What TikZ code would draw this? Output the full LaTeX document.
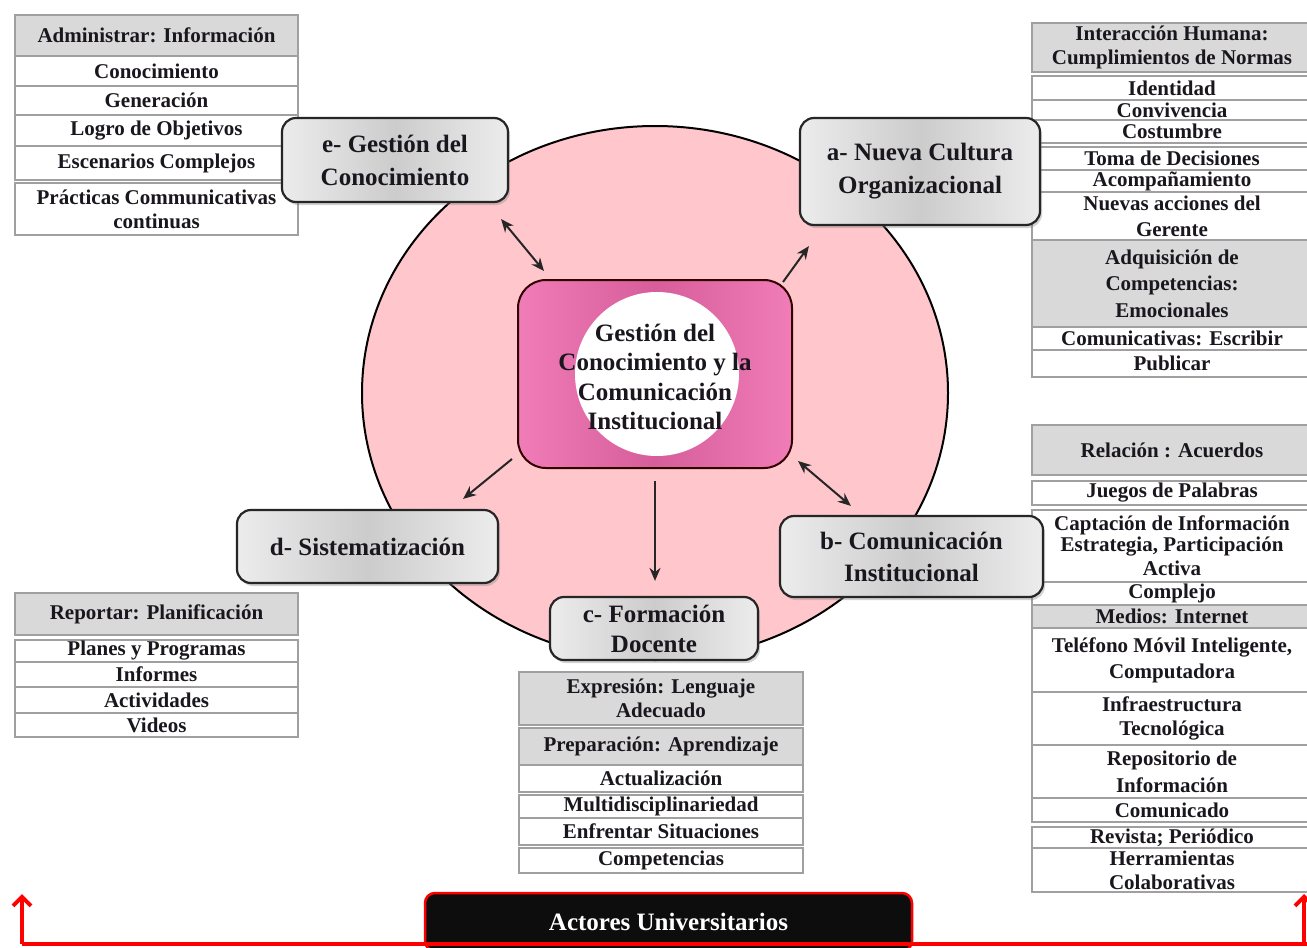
\documentclass[tikz,border=0pt]{standalone}
\usepackage{fontspec}
\setmainfont{Liberation Serif}
\usetikzlibrary{shapes.geometric,arrows.meta,calc,shadows}
\definecolor{ringpink}{RGB}{255,199,204}
\definecolor{pinkedge}{RGB}{240,124,184}
\definecolor{pinkmid}{RGB}{214,94,154}
\definecolor{nodeedge}{RGB}{236,236,236}
\definecolor{nodemid}{RGB}{204,204,204}
\definecolor{hdr}{RGB}{217,217,217}
\definecolor{cellgray}{RGB}{160,160,160}
\definecolor{textdark}{RGB}{26,22,30}
\newcommand\myCellFont{\fontsize{21}{24}\selectfont\bfseries}
\newcommand\myNodeFont{\fontsize{25}{33}\selectfont\bfseries}
\newcommand\tcell[7]{%
  \pgfmathsetmacro\tcW{#4-#2}%
  \pgfmathsetmacro\tcH{#5-#3}%
  \pgfmathsetmacro\tcX{(#2+#4)/2}%
  \pgfmathsetmacro\tcY{(#3+#5)/2}%
  \node[tcellbox, fill=#6, minimum width=\tcW pt, minimum height=\tcH pt] (#1) at (\tcX,\tcY) {#7};}
\begin{document}
\begin{tikzpicture}[x=1pt,y=-1pt,
  tcellbox/.style={draw=cellgray, line width=1.3pt, inner sep=0pt, align=center, font=\myCellFont, text=textdark},
  gnode/.style={rounded corners=14pt, draw=black!85, line width=2.2pt, left color=nodeedge, right color=nodeedge, middle color=nodemid,
    drop shadow={opacity=0.35, shadow xshift=2pt, shadow yshift=-3pt}, align=center, font=\myNodeFont, text=textdark, inner sep=0pt},
  conn/.style={line width=2pt, draw=black!85, -{Stealth[length=13pt,width=11pt]}},
  conntwo/.style={line width=2pt, draw=black!85, {Stealth[length=13pt,width=11pt]}-{Stealth[length=13pt,width=11pt]}},
  redline/.style={draw=red, line width=4pt},
  actor/.style={fill=black!95, draw=red, line width=2.5pt, rounded corners=10pt, text=white, font=\fontsize{25}{28}\selectfont\bfseries, inner sep=0pt}
]
\clip (0,0) rectangle (1307,948);
\fill[white] (0,0) rectangle (1307,948);

% big ring
\node[ellipse, draw=black, line width=2pt, fill=ringpink, minimum width=586pt, minimum height=534pt, inner sep=0pt] (ring) at (655,393) {};

% table top-left
\tcell{tla}{15}{15}{298}{56}{hdr}{Administrar: Información}
\tcell{tlb}{15}{56}{298}{86}{white}{Conocimiento}
\tcell{tlc}{15}{86}{298}{115}{white}{Generación}
\tcell{tld}{15}{115}{298}{146}{white}{Logro de Objetivos}
\tcell{tle}{15}{146}{298}{180}{white}{Escenarios Complejos}
\tcell{tlf}{15}{183}{298}{235}{white}{Prácticas Communicativas\\continuas}

% table top-right
\tcell{tra}{1032}{23}{1312}{72}{hdr}{Interacción Humana:\\Cumplimientos de Normas}
\tcell{trb}{1032}{76}{1312}{100}{white}{Identidad}
\tcell{trc}{1032}{100}{1312}{120}{white}{Convivencia}
\tcell{trd}{1032}{120}{1312}{143}{white}{Costumbre}
\tcell{tre}{1032}{147}{1312}{170}{white}{Toma de Decisiones}
\tcell{trf}{1032}{170}{1312}{192}{white}{Acompañamiento}
\tcell{trg}{1032}{192}{1312}{240}{white}{Nuevas acciones del\\[2pt]Gerente}
\tcell{trh}{1032}{240}{1312}{327}{hdr}{Adquisición de\\[2pt]Competencias:\\[3pt]Emocionales}
\tcell{tri}{1032}{327}{1312}{350}{white}{Comunicativas: Escribir}
\tcell{trj}{1032}{350}{1312}{377}{white}{Publicar}

% table middle-right
\tcell{mra}{1032}{425}{1312}{475}{hdr}{Relación : Acuerdos}
\tcell{mrb}{1032}{481}{1312}{505}{white}{Juegos de Palabras}
\tcell{mrc}{1032}{510}{1312}{582}{white}{Captación de Información\\[-3pt]Estrategia, Participación\\Activa}
\tcell{mrd}{1032}{582}{1312}{605}{white}{Complejo}
\tcell{mre}{1032}{605}{1312}{628}{hdr}{Medios: Internet}
\tcell{mrf}{1032}{628}{1312}{692}{white}{Teléfono Móvil Inteligente,\\[2pt]Computadora}
\tcell{mrg}{1032}{692}{1312}{745}{white}{Infraestructura\\Tecnológica}
\tcell{mrh}{1032}{745}{1312}{798}{white}{Repositorio de\\[3pt]Información}
\tcell{mri}{1032}{798}{1312}{822}{white}{Comunicado}
\tcell{mrj}{1032}{827}{1312}{848}{white}{Revista; Periódico}
\tcell{mrk}{1032}{848}{1312}{892}{white}{Herramientas\\Colaborativas}

% table bottom-left
\tcell{bla}{15}{593}{298}{635}{hdr}{Reportar: Planificación}
\tcell{blb}{15}{640}{298}{662}{white}{Planes y Programas}
\tcell{blc}{15}{662}{298}{687}{white}{Informes}
\tcell{bld}{15}{687}{298}{713}{white}{Actividades}
\tcell{ble}{15}{713}{298}{737}{white}{Videos}

% table bottom-center
\tcell{bca}{519}{672}{803}{725}{hdr}{Expresión: Lenguaje\\Adecuado}
\tcell{bcb}{519}{728}{803}{765}{hdr}{Preparación: Aprendizaje}
\tcell{bcc}{519}{765}{803}{792}{white}{Actualización}
\tcell{bcd}{519}{795}{803}{818}{white}{Multidisciplinariedad}
\tcell{bce}{519}{818}{803}{845}{white}{Enfrentar Situaciones}
\tcell{bcf}{519}{848}{803}{873}{white}{Competencias}

% central box
\node[rounded corners=28pt, draw=black!80!red, line width=2pt, left color=pinkedge, right color=pinkedge, middle color=pinkmid,
  minimum width=274pt, minimum height=188pt, inner sep=0pt] (cen) at (655,374) {};
\node[circle, fill=white, minimum size=164pt, inner sep=0pt] (hole) at (657,374) {};
\node[align=center, font=\fontsize{25}{29.5}\selectfont\bfseries, text=textdark, inner sep=0pt] (cent) at (655,377)
  {Gestión del\\Conocimiento y la\\Comunicación\\Institucional};

% satellite nodes
\node[gnode, minimum width=226pt, minimum height=84pt] (e) at (395,160) {e- Gestión del\\Conocimiento};
\node[gnode, minimum width=240pt, minimum height=107pt] (a) at (920,171.5) {a- Nueva Cultura\\Organizacional};
\node[gnode, minimum width=261pt, minimum height=73pt] (d) at (367.5,546.5) {d- Sistematización};
\node[gnode, minimum width=263pt, minimum height=81pt, font=\fontsize{25}{32}\selectfont\bfseries] (b) at (911.5,556.5) {b- Comunicación\\Institucional};
\node[gnode, minimum width=208pt, minimum height=63pt, font=\fontsize{25}{30}\selectfont\bfseries] (c) at (654,628.5) {c- Formación\\Docente};

% connectors
\draw[conntwo] ($(e.south east)+(-8,16)$) -- ($(cen.north west)+(27,-8)$);
\draw[conn] ($(cen.north east)+(-10,3)$) -- ($(a.south west)+(10,20)$);
\draw[conn] ($(cen.south west)+(-5,-10)$) -- ($(d.north east)+(-36,-10)$);
\draw[conntwo] ($(cen.south east)+(5,-8)$) -- ($(b.north west)+(72,-9)$);
\draw[conn, shorten <=12pt, shorten >=15pt] (cen.south) -- (cen.south |- c.north);

% bottom bar
\node[actor, minimum width=487pt, minimum height=58pt] (act) at (668.5,922) {Actores Universitarios};
\coordinate (lb) at (22,944);
\coordinate (lt) at (22,894);
\coordinate (rb) at (1304,944);
\coordinate (rt) at (1304,894);
\coordinate (re) at (1312,944);
\draw[redline] (lb) -- (re);
\draw[redline, -{Straight Barb[length=9pt,width=18pt]}] (lb) -- (lt);
\draw[redline, -{Straight Barb[length=9pt,width=18pt]}] (rb) -- (rt);
\end{tikzpicture}
\end{document}
